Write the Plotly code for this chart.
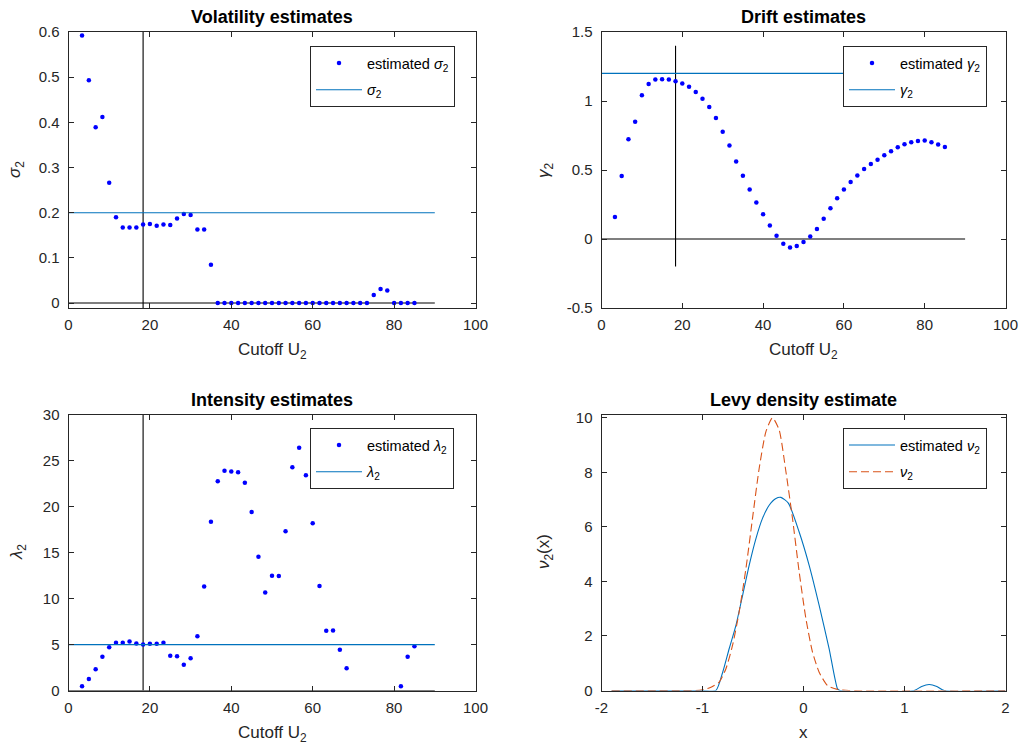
import plotly.graph_objects as go

# ---------------- data ----------------
cutoff = [3.33, 5.00, 6.67, 8.33, 10.00, 11.67, 13.33, 15.00, 16.67, 18.33,
          20.00, 21.67, 23.33, 25.00, 26.67, 28.33, 30.00, 31.67, 33.33, 35.00,
          36.67, 38.33, 40.00, 41.67, 43.33, 45.00, 46.67, 48.33, 50.00, 51.67,
          53.33, 55.00, 56.67, 58.33, 60.00, 61.67, 63.33, 65.00, 66.67, 68.33,
          70.00, 71.67, 73.33, 75.00, 76.67, 78.33, 80.00, 81.67, 83.33, 85.00]

sigma_est = [0.592, 0.493, 0.389, 0.412, 0.266, 0.190, 0.167, 0.167, 0.167, 0.174,
             0.175, 0.171, 0.174, 0.173, 0.187, 0.197, 0.195, 0.163, 0.163, 0.085,
             0, 0, 0, 0, 0, 0, 0, 0, 0, 0,
             0, 0, 0, 0, 0, 0, 0, 0, 0, 0,
             0, 0, 0, 0.018, 0.031, 0.028, 0, 0, 0, 0]

gamma_est = [0.160, 0.456, 0.723, 0.850, 1.041, 1.124, 1.155, 1.158, 1.155, 1.143,
             1.126, 1.104, 1.066, 1.017, 0.956, 0.876, 0.777, 0.677, 0.561, 0.459,
             0.359, 0.265, 0.180, 0.097, 0.024, -0.034, -0.061, -0.051, -0.022, 0.019,
             0.073, 0.146, 0.223, 0.296, 0.359, 0.413, 0.461, 0.507, 0.544, 0.575,
             0.607, 0.636, 0.665, 0.687, 0.701, 0.711, 0.714, 0.701, 0.684, 0.667]

lambda_est = [0.47, 1.24, 2.32, 3.67, 4.72, 5.19, 5.19, 5.34, 5.12, 5.01,
              5.09, 5.09, 5.19, 3.78, 3.74, 2.80, 3.52, 5.92, 11.33, 18.38,
              22.78, 23.94, 23.86, 23.76, 22.63, 19.43, 14.57, 10.68, 12.50, 12.46,
              17.33, 24.30, 26.44, 23.43, 18.20, 11.37, 6.50, 6.54, 4.43, 2.43,
              None, None, None, None, None, None, None, 0.47, 3.67, 4.83]

sigma_true = 0.2
gamma_true = 1.2
lambda_true = 5
chosen_cutoff = 18.33
ref_x = [0, 90]

x_nu_est = [-1.9, -1.0, -0.867, -0.80, -0.736, -0.669, -0.603, -0.538, -0.471, -0.406,
            -0.340, -0.273, -0.224, -0.15, -0.043, 0.056, 0.155, 0.254, 0.337, 0.36,
            1.096, 1.17, 1.244, 1.32, 1.393, 2.0]
nu_est = [0, 0, 0, 0.67, 1.53, 2.39, 3.49, 4.59, 5.57, 6.31,
          6.79, 7.04, 7.08, 6.87, 5.81, 4.59, 3.12, 1.53, 0.06, 0,
          0, 0.15, 0.22, 0.15, 0, 0]

x_nu_true = [-1.9, -1.2, -1.03, -0.934, -0.835, -0.768, -0.703, -0.637, -0.570, -0.505,
             -0.439, -0.372, -0.307, -0.241, -0.174, -0.109, -0.043, 0.024, 0.089, 0.155,
             0.238, 0.337, 0.45, 2.0]
nu_true = [0, 0, 0.01, 0.09, 0.31, 0.80, 1.65, 2.88, 4.47, 6.31,
           8.14, 9.49, 10.0, 9.55, 8.02, 6.31, 4.35, 2.63, 1.41, 0.67,
           0.18, 0.04, 0, 0]

# ---------------- styling ----------------
FONT = "Liberation Sans, Arial, sans-serif"
AX = "#262626"
BLUE_DOT = "#0000FF"
MBLUE = "#0072BD"
MORANGE = "#D95319"
W, H = 1026, 751

def px_x(p):
    return p / W

def px_y(p):
    return 1 - p / H

fig = go.Figure()

def dots(x, y, name, xa, ya, leg):
    fig.add_trace(go.Scatter(x=x, y=y, mode="markers", name=name,
                             marker=dict(color=BLUE_DOT, size=4.5),
                             xaxis=xa, yaxis=ya, legend=leg, legendgroup=leg + "a"))

def hline(x, y, color, name, xa, ya, leg=None, dash=None):
    fig.add_trace(go.Scatter(x=x, y=y, mode="lines", name=name,
                             line=dict(color=color, width=1.1, dash=dash),
                             xaxis=xa, yaxis=ya, showlegend=leg is not None,
                             legend=leg if leg else "legend",
                             legendgroup=(leg + "b") if leg else None))

# Panel 1: volatility
hline(ref_x, [0, 0], "black", "", "x", "y")
hline([chosen_cutoff, chosen_cutoff], [-0.011, 0.6], "black", "", "x", "y")
dots(cutoff, sigma_est, "estimated <i>σ</i><sub>2</sub>", "x", "y", "legend")
hline(ref_x, [sigma_true, sigma_true], MBLUE, "<i>σ</i><sub>2</sub>", "x", "y", "legend")

# Panel 2: drift
hline(ref_x, [0, 0], "black", "", "x2", "y2")
hline([chosen_cutoff, chosen_cutoff], [-0.2, 1.4], "black", "", "x2", "y2")
dots(cutoff, gamma_est, "estimated <i>γ</i><sub>2</sub>", "x2", "y2", "legend2")
hline(ref_x, [gamma_true, gamma_true], MBLUE, "<i>γ</i><sub>2</sub>", "x2", "y2", "legend2")

# Panel 3: intensity
hline(ref_x, [0, 0], "black", "", "x3", "y3")
hline([chosen_cutoff, chosen_cutoff], [0, 30], "black", "", "x3", "y3")
dots(cutoff, lambda_est, "estimated <i>λ</i><sub>2</sub>", "x3", "y3", "legend3")
hline(ref_x, [lambda_true, lambda_true], MBLUE, "<i>λ</i><sub>2</sub>", "x3", "y3", "legend3")

# Panel 4: Levy density
fig.add_trace(go.Scatter(x=x_nu_est, y=nu_est, mode="lines", name="estimated <i>ν</i><sub>2</sub>",
                         line=dict(color=MBLUE, width=1.1, shape="spline", smoothing=0.6),
                         xaxis="x4", yaxis="y4", legend="legend4", legendgroup="l4a"))
fig.add_trace(go.Scatter(x=x_nu_true, y=nu_true, mode="lines", name="<i>ν</i><sub>2</sub>",
                         line=dict(color=MORANGE, width=1.1, dash="8px,4px", shape="spline", smoothing=0.6),
                         xaxis="x4", yaxis="y4", legend="legend4", legendgroup="l4b"))

# axes
dom_left = [px_x(68.5), px_x(475.5)]
dom_right = [px_x(601.5), px_x(1005.5)]
dom_top = [px_y(308), px_y(32)]
dom_bot = [px_y(690.5), px_y(415)]

def axis(domain, anchor, rng, tickvals, ticktext=None, standoff=5):
    d = dict(domain=domain, anchor=anchor, range=rng, tickvals=tickvals, automargin=False,
             showgrid=False, zeroline=False, showline=True, linecolor=AX, linewidth=1,
             mirror="allticks", ticks="inside", ticklen=5, tickcolor=AX, tickwidth=1,
             tickfont=dict(family=FONT, size=15, color=AX), ticklabelstandoff=standoff)
    if ticktext is not None:
        d["ticktext"] = ticktext
    return d

xt = [0, 20, 40, 60, 80, 100]
fig.update_layout(
    xaxis=axis(dom_left, "y", [0, 100], xt, standoff=3),
    yaxis=axis(dom_top, "x", [-0.011, 0.6], [0, 0.1, 0.2, 0.3, 0.4, 0.5, 0.6],
               ["0", "0.1", "0.2", "0.3", "0.4", "0.5", "0.6"], standoff=5),
    xaxis2=axis(dom_right, "y2", [0, 100], xt, standoff=3),
    yaxis2=axis(dom_top, "x2", [-0.5, 1.5], [-0.5, 0, 0.5, 1, 1.5],
                ["-0.5", "0", "0.5", "1", "1.5"], standoff=5),
    xaxis3=axis(dom_left, "y3", [0, 100], xt, standoff=3),
    yaxis3=axis(dom_bot, "x3", [0, 30], [0, 5, 10, 15, 20, 25, 30], standoff=5),
    xaxis4=axis(dom_right, "y4", [-2, 2], [-2, -1, 0, 1, 2], ["-2", "-1", "0", "1", "2"], standoff=3),
    yaxis4=axis(dom_bot, "x4", [0, 10.1], [0, 2, 4, 6, 8, 10], standoff=5),
)

def legend(xp, yp):
    return dict(x=px_x(xp), y=px_y(yp), xanchor="left", yanchor="top",
                bgcolor="white", bordercolor=AX, borderwidth=1,
                font=dict(family=FONT, size=14.5, color="black"),
                tracegroupgap=5, itemwidth=46)

fig.update_layout(
    legend=legend(310, 46),
    legend2=legend(843, 46),
    legend3=legend(310, 428),
    legend4=legend(843, 428),
)

ann = []
def title(text, xc, yc):
    ann.append(dict(text="<b>" + text + "</b>", x=px_x(xc), y=px_y(yc), xref="paper", yref="paper",
                    showarrow=False, xanchor="center", yanchor="middle",
                    font=dict(family=FONT, size=18, color="black")))

def label(text, xc, yc, angle=0):
    ann.append(dict(text=text, x=px_x(xc), y=px_y(yc), xref="paper", yref="paper",
                    showarrow=False, xanchor="center", yanchor="middle", textangle=angle,
                    font=dict(family=FONT, size=17, color=AX)))

title("Volatility estimates", 272, 17)
title("Drift estimates", 803.5, 17)
title("Intensity estimates", 272, 400)
title("Levy density estimate", 803.5, 400)

label("Cutoff U<sub>2</sub>", 272, 351)
label("Cutoff U<sub>2</sub>", 803.5, 351)
label("Cutoff U<sub>2</sub>", 272, 734)
label("x", 803.5, 732)

label("<i>σ</i><sub>2</sub>", 16, 170, -90)
label("<i>γ</i><sub>2</sub>", 545, 170, -90)
label("<i>λ</i><sub>2</sub>", 18, 552, -90)
label("<i>ν</i><sub>2</sub>(x)", 545, 552, -90)

fig.update_layout(
    annotations=ann,
    width=W, height=H,
    margin=dict(l=0, r=0, t=0, b=0, autoexpand=False),
    paper_bgcolor="white", plot_bgcolor="white",
    font=dict(family=FONT),
)

fig.write_html("out.html")
